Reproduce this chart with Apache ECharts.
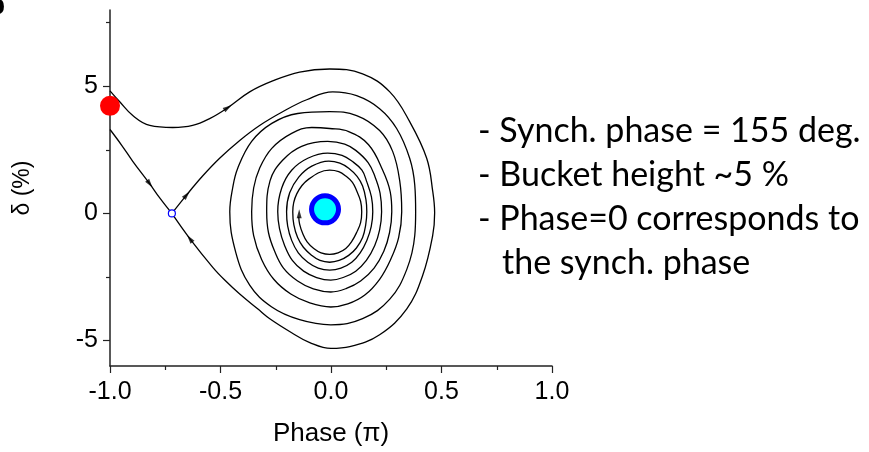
<!DOCTYPE html>
<html>
<head>
<meta charset="utf-8">
<script src="https://cdn.jsdelivr.net/npm/echarts@6/dist/echarts.min.js"></script>
<style>
  html, body { margin: 0; padding: 0; background: #fff; }
  #chart { width: 869px; height: 452px; }
</style>
</head>
<body>
<div id="chart"></div>
<script>
// phase in units of pi, delta in %
var outerCurve = [
  [-1.0, 4.82], [-0.956, 4.39], [-0.897, 3.85], [-0.820, 3.46], [-0.716, 3.38], [-0.626, 3.46],
  [-0.549, 3.73], [-0.467, 4.16], [-0.368, 4.78], [-0.264, 5.21], [-0.142, 5.56], [-0.006, 5.68],
  [0.143, 5.49], [0.266, 4.78], [0.356, 3.61], [0.433, 2.17], [0.460, 0.89], [0.469, 0.03],
  [0.460, -0.87], [0.415, -2.43], [0.343, -3.75], [0.220, -4.77], [0.085, -5.24], [0.0, -5.31],
  [-0.096, -5.08], [-0.178, -4.69], [-0.277, -4.14], [-0.332, -3.75], [-0.413, -3.17],
  [-0.481, -2.62], [-0.535, -2.12], [-0.639, -0.99], [-0.72, 0]
];
var leftBranch = [
  [-1.0, 3.30], [-0.947, 2.68], [-0.897, 2.05], [-0.820, 1.16], [-0.775, 0.61], [-0.72, 0]
];
var spiralCurve = [
  [-0.72, 0], [-0.653, 0.73], [-0.581, 1.47], [-0.504, 2.17], [-0.413, 2.87], [-0.323, 3.46],
  [-0.219, 4.00], [-0.110, 4.47], [0.008, 4.78],
  [0.116, 4.63], [0.220, 4.12], [0.297, 3.34], [0.356, 2.17], [0.379, 1.12], [0.383, 0.07],
  [0.379, -0.87], [0.343, -2.20], [0.266, -3.37], [0.143, -4.14], [-0.001, -4.38],
  [-0.142, -4.18], [-0.268, -3.68], [-0.368, -2.82], [-0.431, -1.53], [-0.458, 0.07],
  [-0.445, 1.00], [-0.422, 1.78], [-0.359, 2.83], [-0.268, 3.54], [-0.151, 3.93], [-0.006, 4.00],
  [0.116, 3.85], [0.220, 3.26], [0.279, 2.44], [0.311, 1.28], [0.320, 0.07],
  [0.306, -0.95], [0.270, -1.81], [0.220, -2.59], [0.153, -3.21], [0.076, -3.56], [-0.001, -3.68],
  [-0.096, -3.52], [-0.182, -3.17], [-0.259, -2.59], [-0.314, -1.81], [-0.350, -0.87], [-0.359, 0.07],
  [-0.350, 1.00], [-0.323, 1.78], [-0.268, 2.56], [-0.178, 3.15], [-0.087, 3.38], [-0.006, 3.34],
  [0.080, 3.22], [0.170, 2.70], [0.234, 1.70], [0.268, 0.85], [0.275, 0.07],
  [0.265, -0.75], [0.239, -1.49], [0.195, -2.15], [0.134, -2.66], [0.070, -2.95], [-0.001, -3.09],
  [-0.080, -2.97], [-0.151, -2.66], [-0.215, -2.15], [-0.255, -1.49], [-0.283, -0.75], [-0.291, 0.07],
  [-0.276, 1.28], [-0.219, 2.09], [-0.133, 2.64], [-0.015, 2.83],
  [0.062, 2.73], [0.112, 2.48], [0.168, 2.00], [0.198, 1.47], [0.222, 0.80], [0.229, 0.07],
  [0.220, -0.65], [0.198, -1.26], [0.160, -1.85], [0.112, -2.27], [0.055, -2.52], [-0.001, -2.62],
  [-0.065, -2.52], [-0.124, -2.27], [-0.175, -1.85], [-0.210, -1.26], [-0.233, -0.60], [-0.241, 0.07],
  [-0.223, 1.00], [-0.178, 1.70], [-0.105, 2.17], [-0.015, 2.37],
  [0.050, 2.28], [0.094, 2.06], [0.140, 1.70], [0.162, 1.24], [0.183, 0.65], [0.189, 0.07],
  [0.182, -0.52], [0.162, -1.06], [0.132, -1.55], [0.094, -1.92], [0.045, -2.15], [-0.006, -2.23],
  [-0.058, -2.15], [-0.105, -1.92], [-0.148, -1.55], [-0.178, -1.06], [-0.196, -0.50], [-0.201, 0.07],
  [-0.187, 0.81], [-0.146, 1.43], [-0.087, 1.86], [-0.010, 2.06],
  [0.040, 1.98], [0.080, 1.78], [0.118, 1.46], [0.143, 1.08], [0.158, 0.55], [0.162, 0.07],
  [0.157, -0.45], [0.143, -0.95], [0.115, -1.36], [0.080, -1.65], [0.037, -1.85], [-0.006, -1.92],
  [-0.050, -1.85], [-0.087, -1.65], [-0.125, -1.33], [-0.151, -0.95], [-0.168, -0.45], [-0.173, 0.07],
  [-0.155, 0.77], [-0.101, 1.35], [-0.006, 1.70],
  [0.035, 1.64], [0.067, 1.47], [0.097, 1.22], [0.116, 0.89], [0.134, 0.48], [0.139, 0.07],
  [0.134, -0.36], [0.116, -0.75], [0.094, -1.10], [0.067, -1.38], [0.032, -1.55], [-0.006, -1.61],
  [-0.045, -1.55], [-0.078, -1.38], [-0.108, -1.12], [-0.128, -0.79], [-0.142, -0.42], [-0.146, -0.13]
];
// flow arrows on the curves: position and heading (deg, counter-clockwise from up)
var arrowPoints = [[-0.467, 4.16], [-0.820, 1.16], [-0.653, 0.73], [-0.639, -0.99], [-0.144, -0.01]];
var arrowHeadings = [-56, -144, -40, 37, 0];

var redDot = [[-1.0, 4.23]];
var fixedPoint = [[-0.027, 0.16]];
var saddlePoint = [[-0.72, 0]];

var yMajorTicks = [-5, 0, 5];
var yMinorTicks = [-2.5, 2.5, 7.5];

var notes = [
  '- Synch. phase = 155 deg.',
  '- Bucket height ~5 %',
  '- Phase=0 corresponds to',
  'the synch. phase'
];

var chart = echarts.init(document.getElementById('chart'));

var axisFont = 'Liberation Sans, Arial, sans-serif';
var lineStyle = { color: '#000', width: 1.3 };

function curve(data) {
  return {
    type: 'line',
    data: data,
    showSymbol: false,
    smooth: 0.4,
    clip: false,
    lineStyle: lineStyle,
    z: 2,
    silent: true
  };
}

var arrowData = arrowPoints.map(function (p, i) {
  return { value: p, symbolRotate: arrowHeadings[i] };
});

var noteY = [135, 179, 223, 267];
var noteX = [478, 478, 478, 502];
var graphics = notes.map(function (t, i) {
  return {
    type: 'text',
    left: noteX[i],
    top: noteY[i] - 21,
    style: {
      text: t,
      fill: '#000',
      font: '34px Lato, "Open Sans", sans-serif'
    }
  };
});
graphics.push({
  type: 'text',
  left: -12,
  top: -8,
  style: { text: 'b', fill: '#000', font: 'bold 28px "Liberation Sans", Arial, sans-serif' }
});

var option = {
  backgroundColor: '#fff',
  animation: false,
  grid: { left: 110, right: 317, top: 10, bottom: 81 },
  xAxis: {
    type: 'value',
    min: -1,
    max: 1,
    interval: 0.5,
    name: 'Phase (\u03c0)',
    nameLocation: 'middle',
    nameGap: 55,
    nameTextStyle: { fontFamily: axisFont, fontSize: 26, color: '#000' },
    axisLine: { onZero: false, lineStyle: { color: '#222', width: 1.5 } },
    axisTick: { inside: false, length: 7, lineStyle: { color: '#222', width: 1.2 } },
    minorTick: { show: true, splitNumber: 2, length: 4, lineStyle: { color: '#222', width: 1.2 } },
    axisLabel: {
      fontFamily: axisFont, fontSize: 25, color: '#000', margin: 14,
      formatter: function (v) { return v.toFixed(1); }
    },
    splitLine: { show: false }
  },
  yAxis: [{
    type: 'value',
    min: -6,
    max: 8,
    name: '\u03b4 (%)',
    nameLocation: 'middle',
    nameGap: 76,
    nameTextStyle: { fontFamily: axisFont, fontSize: 23, color: '#000' },
    axisLine: { show: true, onZero: false, lineStyle: { color: '#222', width: 1.5 } },
    axisTick: { show: true, length: 7, customValues: yMajorTicks, lineStyle: { color: '#222', width: 1.2 } },
    axisLabel: { fontFamily: axisFont, fontSize: 25, color: '#000', margin: 12, customValues: yMajorTicks },
    splitLine: { show: false }
  }, {
    type: 'value',
    position: 'left',
    min: -6,
    max: 8,
    axisLine: { show: false, onZero: false },
    axisTick: { show: true, length: 4, customValues: yMinorTicks, lineStyle: { color: '#222', width: 1.2 } },
    axisLabel: { show: false },
    splitLine: { show: false }
  }],
  graphic: graphics,
  series: [
    curve(outerCurve),
    curve(leftBranch),
    curve(spiralCurve),
    {
      type: 'scatter',
      data: arrowData,
      symbol: 'triangle',
      symbolSize: [5, 9],
      itemStyle: { color: '#000' },
      clip: false,
      z: 3,
      silent: true
    },
    {
      type: 'scatter',
      data: redDot,
      symbolSize: 20,
      itemStyle: { color: '#ff0000', opacity: 1 },
      clip: false,
      z: 5,
      silent: true
    },
    {
      type: 'scatter',
      data: fixedPoint,
      symbolSize: 27,
      itemStyle: { color: '#00ffff', borderColor: '#0000ff', borderWidth: 5, opacity: 1 },
      clip: false,
      z: 5,
      silent: true
    },
    {
      type: 'scatter',
      data: saddlePoint,
      symbolSize: 7,
      itemStyle: { color: '#fff', borderColor: '#0000ff', borderWidth: 1.2, opacity: 1 },
      clip: false,
      z: 5,
      silent: true
    }
  ]
};

chart.setOption(option);
</script>
</body>
</html>
